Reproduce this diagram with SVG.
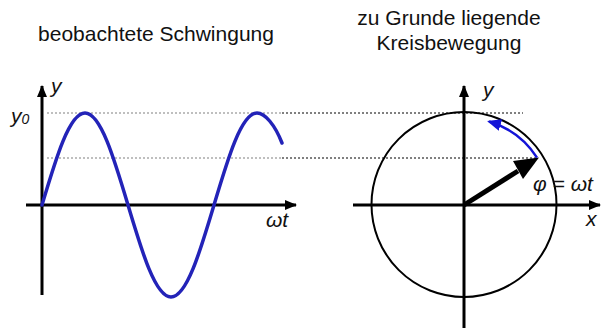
<svg xmlns="http://www.w3.org/2000/svg" width="603" height="328" viewBox="0 0 603 328">
<style>
.title{font-family:"Liberation Sans",Arial,sans-serif;font-size:21px;fill:#111}
.lbl{font-family:"Liberation Sans",Arial,sans-serif;font-style:italic;font-size:21px;fill:#111}
.ax{stroke:#000;stroke-width:3;fill:none}
.dotg{stroke:#aaa;stroke-width:1.5;stroke-dasharray:2 2;fill:none}
.dotk{stroke:#000;stroke-width:1;stroke-dasharray:2 2;fill:none}
</style>
<defs>
<marker id="ah" viewBox="0 0 12 10" refX="11" refY="5" markerUnits="userSpaceOnUse" markerWidth="12" markerHeight="10" orient="auto"><path d="M0,0 L12,5 L0,10 Z" fill="#000"/></marker>
<marker id="bh" viewBox="0 0 14 12" refX="12" refY="6" markerUnits="userSpaceOnUse" markerWidth="14" markerHeight="12" orient="auto"><path d="M0,0 L14,6 L0,12 Z" fill="#1414d8"/></marker>
</defs>
<text class="title" x="156" y="41" text-anchor="middle" font-size="21.3">beobachtete Schwingung</text>
<text class="title" x="449" y="25" text-anchor="middle" font-size="19.5">zu Grunde liegende</text>
<text class="title" x="449" y="50" text-anchor="middle" font-size="19.5">Kreisbewegung</text>
<g id="connectors">
<path class="dotg" d="M47,113 H282 M47,158 H282"/>
<path class="dotk" d="M282,113 H523 M282,158 H537"/>
</g>
<g id="left-graph">
<path class="ax" d="M42,295 V86" marker-end="url(#ah)"/>
<path class="ax" d="M26,205 H296" marker-end="url(#ah)"/>
<path d="M42,205 C56.02,157.87 69.43,113 85,113 C100.57,113 113.98,157.87 128,205 C142.02,252.13 155.43,297 171,297 C186.57,297 199.98,252.13 214,205 C228.02,157.87 241.43,113 257,113 C265,113 275,125 282,143" fill="none" stroke="#2323b8" stroke-width="3.5" stroke-linecap="round"/>
<text class="lbl" x="51" y="93">y</text>
<text class="lbl" x="11" y="123">y<tspan font-size="14" dy="1">0</tspan></text>
<text class="lbl" x="266" y="227">ωt</text>
</g>
<g id="right-circle">
<circle cx="464" cy="204.5" r="92.5" fill="none" stroke="#000" stroke-width="2"/>
<path class="ax" d="M353,205 H600" marker-end="url(#ah)"/>
<path class="ax" d="M464,328 V86" marker-end="url(#ah)"/>
<path d="M464,205 L518,171" stroke="#000" stroke-width="5" fill="none"/>
<path d="M539,157.5 L513,161 L523,179 Z" fill="#000"/>
<path d="M537,157.6 A87,87 0 0 0 489,121.5" fill="none" stroke="#1414d8" stroke-width="2.5" marker-end="url(#bh)"/>
<text class="lbl" x="533" y="191">φ = ωt</text>
<text class="lbl" x="586" y="226">x</text>
<text class="lbl" x="483" y="97">y</text>
</g>
</svg>
